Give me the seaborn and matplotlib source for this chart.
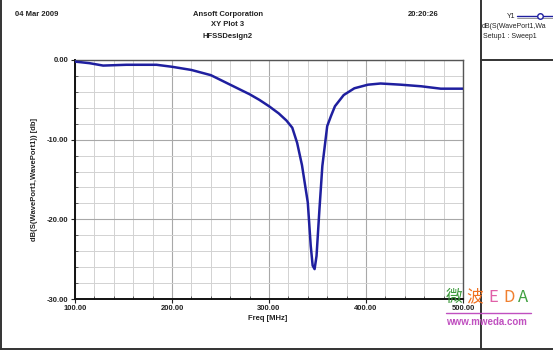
import matplotlib
matplotlib.use("Agg")
import matplotlib.pyplot as plt
import seaborn as sns
import pandas as pd
from matplotlib.ticker import MultipleLocator, FormatStrFormatter
from matplotlib.lines import Line2D

freq_mhz = [100, 115, 129, 153, 184, 200, 220, 240, 260, 280, 290, 300, 310, 318, 324, 329, 334,
            340, 343, 345, 347, 349, 352, 355, 360, 364, 368, 377, 388, 402, 415, 436, 457, 477, 500]
s11_db = [-0.2, -0.4, -0.7, -0.6, -0.6, -0.85, -1.25, -1.9, -3.1, -4.3, -5.0, -5.8, -6.7, -7.6, -8.5, -10.4, -13.2,
          -17.9, -23.3, -25.8, -26.25, -24.6, -18.75, -13.3, -8.3, -7.0, -5.8, -4.4, -3.55, -3.1, -2.95, -3.1, -3.3, -3.6, -3.6]
x_ticks = [100, 200, 300, 400, 500]
y_ticks = [-30, -20, -10, 0]

sns.set_theme(style="white")
plt.rcParams['font.family'] = ['Liberation Sans', 'Noto Sans CJK SC', 'DejaVu Sans']

W, H = 553, 350
fig = plt.figure(figsize=(W / 100, H / 100), dpi=100)

def fx(x):
    return x / W

def fy(y):
    return 1 - y / H

ax = fig.add_axes([fx(75), fy(299), fx(463) - fx(75), fy(60) - fy(299)])
df = pd.DataFrame({"Freq": freq_mhz, "S11": s11_db})
sns.lineplot(data=df, x="Freq", y="S11", ax=ax, color="#1f1f9f", linewidth=1.8, zorder=5)

ax.set_xlim(100, 500)
ax.set_ylim(-30, 0)
ax.set_xticks(x_ticks)
ax.set_yticks(y_ticks)
ax.xaxis.set_minor_locator(MultipleLocator(20))
ax.yaxis.set_minor_locator(MultipleLocator(2))
ax.xaxis.set_major_formatter(FormatStrFormatter('%.2f'))
ax.yaxis.set_major_formatter(FormatStrFormatter('%.2f'))
ax.grid(which='minor', color='#d2d2d2', linewidth=0.7)
ax.grid(which='major', color='#a8a8a8', linewidth=0.8)
ax.set_axisbelow(True)
ax.tick_params(which='major', direction='out', length=3, width=0.8, labelsize=5.5, pad=1.5, colors='#222222')
ax.tick_params(which='minor', direction='in', length=2, width=0.6, colors='#444444')
ax.tick_params(axis='both', which='both', bottom=True, left=True)
for lab in ax.get_xticklabels() + ax.get_yticklabels():
    lab.set_fontweight('bold')
for s in ['left', 'bottom']:
    ax.spines[s].set_color('#111111')
    ax.spines[s].set_linewidth(1.4)
for s in ['top', 'right']:
    ax.spines[s].set_color('#555555')
    ax.spines[s].set_linewidth(1.0)
ax.set_xlabel("")
ax.set_ylabel("")

# axis titles
fig.text(fx(268), fy(318), "Freq [MHz]", ha='center', va='center', fontsize=5.5, fontweight='bold', color='#222222')
fig.text(fx(34), fy(180), "dB(S(WavePort1,WavePort1)) [db]", ha='center', va='center', rotation=90,
         fontsize=5.5, fontweight='bold', color='#222222')

# header
fig.text(fx(15), fy(15), "04 Mar 2009", ha='left', va='center', fontsize=5.5, fontweight='bold', color='#222222')
fig.text(fx(439), fy(15), "20:20:26", ha='right', va='center', fontsize=5.5, fontweight='bold', color='#222222')
fig.text(fx(228), fy(15), "Ansoft Corporation", ha='center', va='center', fontsize=5.5, fontweight='bold', color='#222222')
fig.text(fx(228), fy(25), "XY Plot 3", ha='center', va='center', fontsize=5.5, fontweight='bold', color='#222222')
fig.text(fx(228), fy(36), "HFSSDesign2", ha='center', va='center', fontsize=5.5, fontweight='bold', color='#222222')

# frame lines
frame_kw = dict(transform=fig.transFigure, color='#333333', linewidth=1.4)
fig.add_artist(Line2D([fx(1), fx(1)], [fy(0), fy(349)], **frame_kw))
fig.add_artist(Line2D([fx(0), fx(553)], [fy(349), fy(349)], **frame_kw))
fig.add_artist(Line2D([fx(481), fx(481)], [fy(0), fy(349)], **frame_kw))
fig.add_artist(Line2D([fx(481), fx(553)], [fy(60), fy(60)], **frame_kw))

# legend panel
fig.text(fx(515), fy(16), "Y1", ha='right', va='center', fontsize=5, color='#222222')
fig.add_artist(Line2D([fx(517), fx(553)], [fy(16), fy(16)], transform=fig.transFigure,
                      color='#1f1f9f', linewidth=1.0))
fig.add_artist(Line2D([fx(517), fx(553)], [fy(18), fy(18)], transform=fig.transFigure,
                      color='#888888', linewidth=0.6))
fig.add_artist(Line2D([fx(540)], [fy(16)], transform=fig.transFigure, marker='o', markersize=4,
                      markerfacecolor='white', markeredgecolor='#1f1f9f', linestyle='none'))
fig.text(fx(482), fy(27), "dB(S(WavePort1,Wa", ha='left', va='center', fontsize=5, color='#222222')
fig.text(fx(483), fy(37), "Setup1 : Sweep1", ha='left', va='center', fontsize=5, color='#222222')

# watermark
wm = [("微", "#3c9a3c", 446), ("波", "#f07020", 466), ("E", "#e060a8", 488), ("D", "#f08030", 503), ("A", "#40a040", 518)]
for ch, col, x in wm:
    fig.text(fx(x), fy(297), ch, ha='left', va='center', fontsize=12, color=col,
             family=['Noto Sans CJK SC', 'DejaVu Sans'])
fig.add_artist(Line2D([fx(446), fx(531)], [fy(313), fy(313)], transform=fig.transFigure,
                      color='#c050c0', linewidth=1.0))
fig.text(fx(446), fy(322), "www.mweda.com", ha='left', va='center', fontsize=7, fontweight='bold', color='#c050c0')

fig.savefig("out.png", dpi=100)
